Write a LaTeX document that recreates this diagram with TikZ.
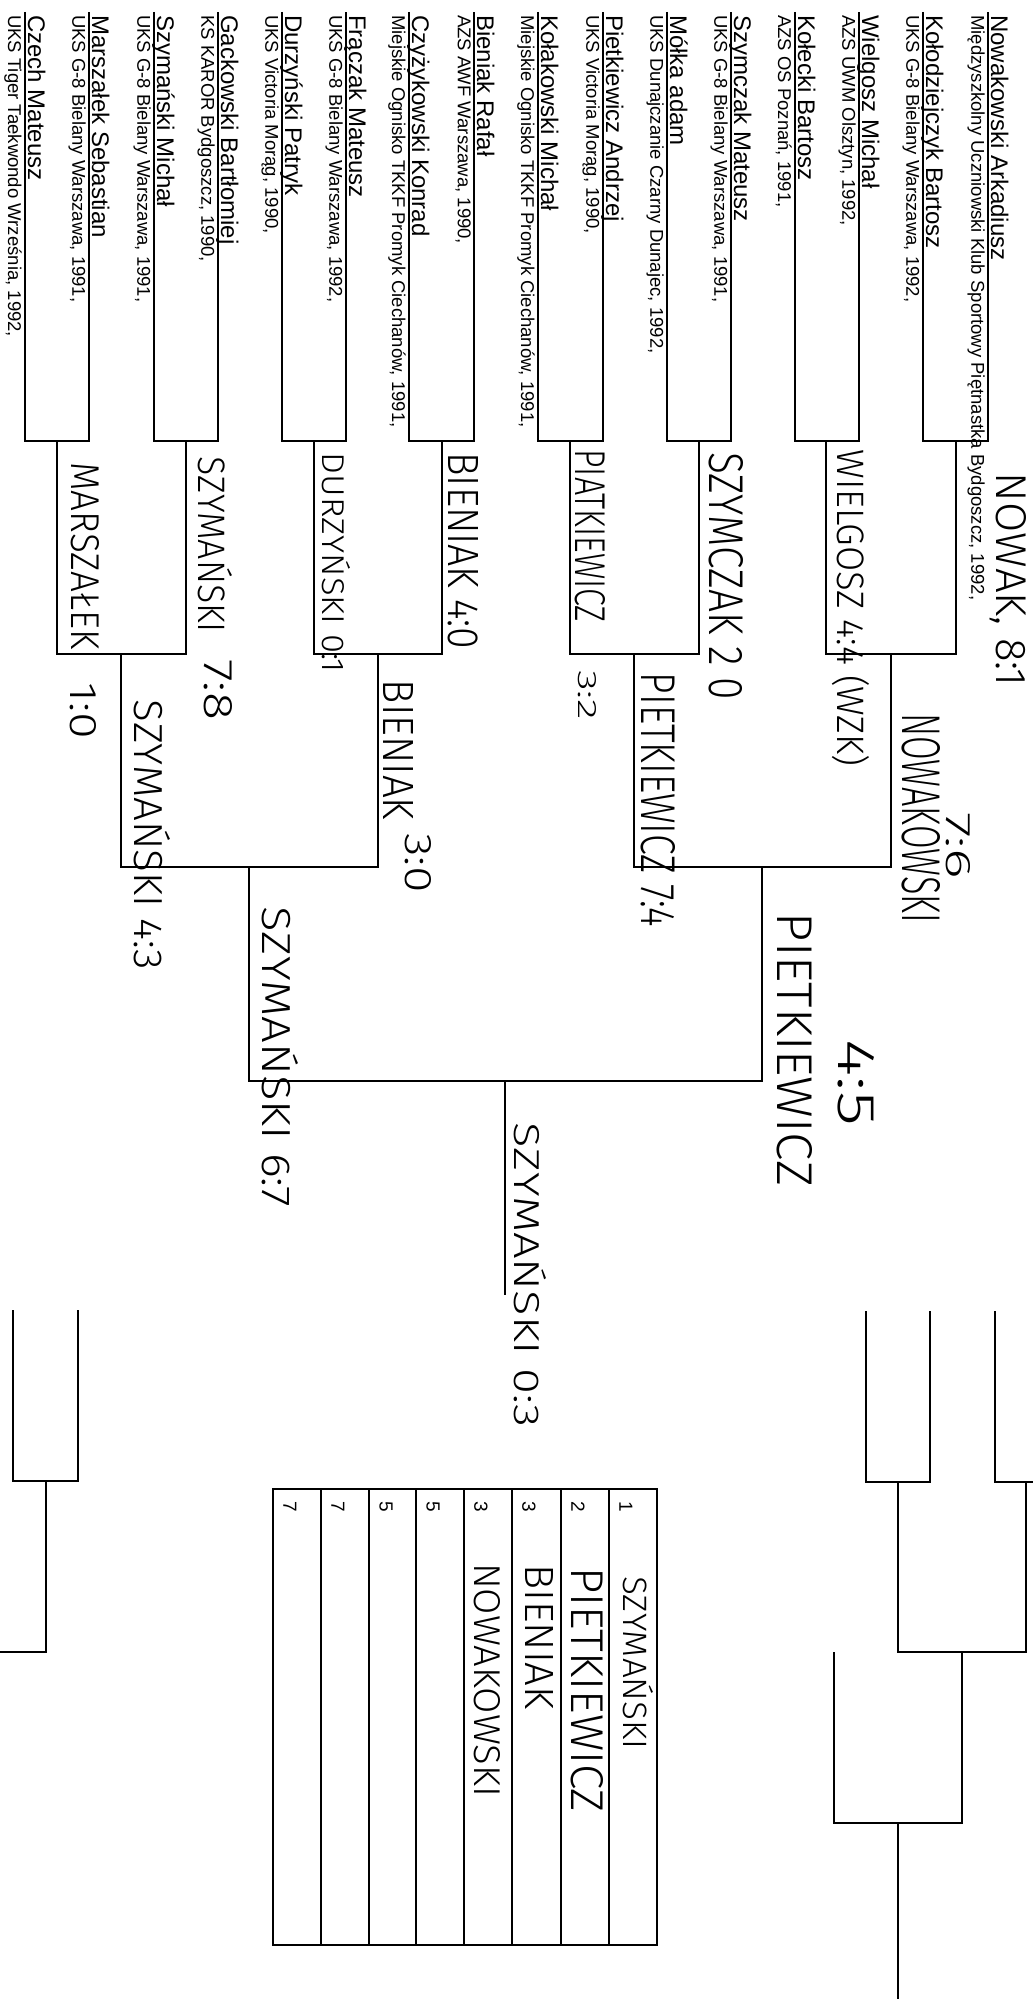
\documentclass[tikz,border=0pt]{standalone}
\usepackage{fontspec}
\setmainfont{Liberation Sans}
\newfontfamily\hand{Fira Sans Light}
\usepackage{graphicx}
\newcommand{\hw}[3]{\resizebox{#1pt}{#2pt}{\hand #3}}
\begin{document}
\begin{tikzpicture}[x=1pt,y=-1pt,
  br/.style={line width=2.6pt, black, line join=miter},
  nm/.style={rotate=-90, anchor=base west, inner sep=0pt, font=\fontsize{24}{28}\selectfont},
  cl/.style={rotate=-90, anchor=north west, inner sep=0pt, font=\fontsize{18.5}{22}\selectfont},
  hwn/.style={rotate=-90, inner sep=0pt},
  num/.style={rotate=-90, inner sep=0pt, font=\fontsize{19}{21}\selectfont}]
\useasboundingbox (0,0) rectangle (1033,1999);

% competitors
\foreach \x/\n/\c [count=\i] in {
 25/{Czech Mateusz}/{UKS Tiger Taekwondo Września, 1992,},
 89/{Marszałek Sebastian}/{UKS G-8 Bielany Warszawa, 1991,},
 154/{Szymański Michał}/{UKS G-8 Bielany Warszawa, 1991,},
 218/{Gackowski Bartłomiej}/{KS KAROR Bydgoszcz, 1990,},
 282/{Durzyński Patryk}/{UKS Victoria Morąg, 1990,},
 346/{Frączak Mateusz}/{UKS G-8 Bielany Warszawa, 1992,},
 409/{Czyżykowski Konrad}/{Miejskie Ognisko TKKF Promyk Ciechanów, 1991,},
 474/{Bieniak Rafał}/{AZS AWF Warszawa, 1990,},
 538/{Kołakowski Michał}/{Miejskie Ognisko TKKF Promyk Ciechanów, 1991,},
 603/{Pietkiewicz Andrzej}/{UKS Victoria Morąg, 1990,},
 667/{Mółka adam}/{UKS Dunajczanie Czarny Dunajec, 1992,},
 731/{Szymczak Mateusz}/{UKS G-8 Bielany Warszawa, 1991,},
 795/{Kołecki Bartosz}/{AZS OS Poznań, 1991,},
 859/{Wielgosz Michał}/{AZS UWM Olsztyn, 1992,},
 923/{Kołodziejczyk Bartosz}/{UKS G-8 Bielany Warszawa, 1992,},
 988/{Nowakowski Arkadiusz}/{Międzyszkolny Uczniowski Klub Sportowy Piętnastka Bydgoszcz, 1992,}}
{
  \coordinate (t\i) at (\x,12);
  \coordinate (b\i) at (\x,441);
  \node[nm] (n\i) at (\x+3,15) {\n};
  \node[cl] (c\i) at (\x-3,15) {\c};
}

% round 1 boxes
\foreach \a/\b in {1/2,3/4,5/6,7/8,9/10,11/12,13/14,15/16}
  \draw[br] (t\a) -- (b\a) -- (b\b) -- (t\b);

% round 2
\foreach \x [count=\i] in {57,186,314,442,570,699,826,956}{
  \coordinate (m\i) at (\x,441);
  \coordinate (e\i) at (\x,654);
}
\foreach \a/\b in {1/2,3/4,5/6,7/8}
  \draw[br] (m\a) -- (e\a) -- (e\b) -- (m\b);

% round 3
\foreach \x [count=\i] in {121,378,634,891}{
  \coordinate (f\i) at (\x,654);
  \coordinate (g\i) at (\x,867);
}
\foreach \a/\b in {1/2,3/4}
  \draw[br] (f\a) -- (g\a) -- (g\b) -- (f\b);

% semifinal
\coordinate (h1) at (249,867); \coordinate (k1) at (249,1081);
\coordinate (h2) at (762,867); \coordinate (k2) at (762,1081);
\draw[br] (h1) -- (k1) -- (k2) -- (h2);
% final
\coordinate (w0) at (505,1081); \coordinate (w1) at (505,1295);
\draw[br] (w0) -- (w1);

% bottom-left small bracket
\coordinate (bl1) at (13,1310); \coordinate (bl1b) at (13,1481);
\coordinate (bl2) at (78,1310); \coordinate (bl2b) at (78,1481);
\coordinate (bl3) at (46,1481); \coordinate (bl3b) at (46,1652);
\coordinate (bl4) at (0,1652);
\draw[br] (bl1) -- (bl1b) -- (bl2b) -- (bl2);
\draw[br] (bl3) -- (bl3b) -- (bl4);

% bottom-right small bracket
\coordinate (q1) at (866,1311); \coordinate (q1b) at (866,1482);
\coordinate (q2) at (930,1311); \coordinate (q2b) at (930,1482);
\coordinate (q3) at (995,1311); \coordinate (q3b) at (995,1482);
\coordinate (q4) at (1033,1482);
\draw[br] (q1) -- (q1b) -- (q2b) -- (q2);
\draw[br] (q3) -- (q3b) -- (q4);
\coordinate (r1) at (898,1482); \coordinate (r1b) at (898,1652);
\coordinate (r2) at (1026,1482); \coordinate (r2b) at (1026,1652);
\draw[br] (r1) -- (r1b) -- (r2b) -- (r2);
\coordinate (s1) at (962,1652); \coordinate (s1b) at (962,1823);
\coordinate (s2) at (834,1652); \coordinate (s2b) at (834,1823);
\draw[br] (s1) -- (s1b) -- (s2b) -- (s2);
\coordinate (u1) at (898,1823); \coordinate (u2) at (898,1999);
\draw[br] (u1) -- (u2);

% results table
\draw[br] (273,1489) rectangle (657,1945);
\foreach \x in {321,369,416,464,512,561,609}
  \draw[br] (\x,1489) -- (\x,1945);
\foreach \x/\v [count=\i] in {273/7,321/7,369/5,416/5,464/3,512/3,561/2,609/1}
  \node[num] (pl\i) at (\x+17,1507) {\v};

% handwritten annotations
\node[hwn] (h01) at (85,556) {\hw{187}{28}{MARSZAŁEK}};
\node[hwn] (h02) at (83,711) {\hw{57}{26}{1:0}};
\node[hwn] (h03) at (215,545) {\hw{176}{34}{SZYMAŃSKI}};
\node[hwn] (h04) at (218,690) {\hw{60}{28}{7:8}};
\node[hwn] (h05) at (336,563) {\hw{220}{28}{DURZYŃSKI 0:1}};
\node[hwn] (h06) at (463,551) {\hw{197}{30}{BIENIAK 4:0}};
\node[hwn] (h07) at (152,835) {\hw{270}{36}{SZYMAŃSKI 4:3}};
\node[hwn] (h08) at (398,750) {\hw{140}{30}{BIENIAK}};
\node[hwn] (h09) at (418,863) {\hw{60}{26}{3:0}};
\node[hwn] (h10) at (280,1057) {\hw{300}{36}{SZYMAŃSKI 6:7}};
\node[hwn] (h11) at (590,536) {\hw{173}{30}{PIATKIEWICZ}};
\node[hwn] (h12) at (587,695) {\hw{50}{18}{3:2}};
\node[hwn] (h13) at (726,576) {\hw{247}{34}{SZYMCZAK 2 0}};
\node[hwn] (h14) at (851,608) {\hw{317}{32}{WIELGOSZ 4:4 (WZK)}};
\node[hwn] (h15) at (1008,580) {\hw{214}{30}{NOWAK, 8:1}};
\node[hwn] (h16) at (658,800) {\hw{254}{34}{PIETKIEWICZ 7:4}};
\node[hwn] (h17) at (921,818) {\hw{210}{38}{NOWAKOWSKI}};
\node[hwn] (h18) at (958,846) {\hw{67}{24}{7:6}};
\node[hwn] (h19) at (795,1050) {\hw{274}{35}{PIETKIEWICZ}};
\node[hwn] (h20) at (856,1083) {\hw{87}{36}{4:5}};
\node[hwn] (h21) at (530,1275) {\hw{304}{32}{SZYMAŃSKI 0:3}};
% table names
\node[hwn] (t01) at (638,1663) {\hw{173}{30}{SZYMAŃSKI}};
\node[hwn] (t02) at (587,1690) {\hw{245}{32}{PIETKIEWICZ}};
\node[hwn] (t03) at (539,1637) {\hw{145}{28}{BIENIAK}};
\node[hwn] (t04) at (487,1680) {\hw{234}{26}{NOWAKOWSKI}};
\end{tikzpicture}
\end{document}
